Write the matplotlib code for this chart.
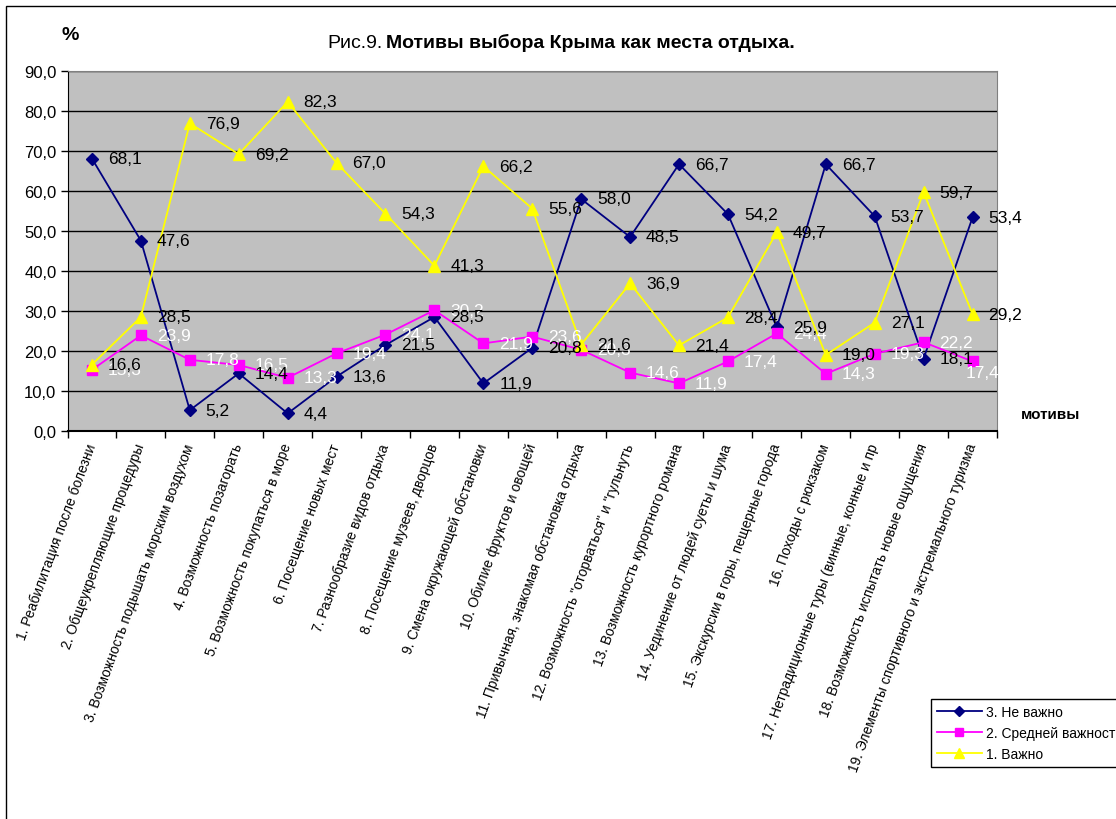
import numpy as np
import matplotlib
matplotlib.use('Agg')
import matplotlib.pyplot as plt
from matplotlib.patches import Rectangle

plt.rcParams['font.family'] = ['Liberation Sans', 'DejaVu Sans']

motives = [
    '1. Реабилитация после болезни',
    '2. Общеукрепляющие процедуры',
    '3. Возможность подышать морским воздухом',
    '4. Возможность позагорать',
    '5. Возможность покупаться в море',
    '6. Посещение новых мест',
    '7. Разнообразие видов отдыха',
    '8. Посещение музеев, дворцов',
    '9. Смена окружающей обстановки',
    '10. Обилие фруктов и овощей',
    '11. Привычная, знакомая обстановка отдыха',
    '12. Возможность "оторваться" и "гульнуть',
    '13. Возможность курортного романа',
    '14. Уединение от людей суеты и шума',
    '15. Экскурсии в горы, пещерные города',
    '16. Походы с рюкзаком',
    '17. Нетрадиционные туры (винные, конные и пр',
    '18. Возможность испытать новые ощущения',
    '19. Элементы спортивного и экстремального туризма',
]
not_important = [68.1, 47.6, 5.2, 14.4, 4.4, 13.6, 21.5, 28.5, 11.9, 20.8,
                 58.0, 48.5, 66.7, 54.2, 25.9, 66.7, 53.7, 18.1, 53.4]
medium = [15.3, 23.9, 17.8, 16.5, 13.3, 19.4, 24.1, 30.2, 21.9, 23.6,
          20.3, 14.6, 11.9, 17.4, 24.4, 14.3, 19.3, 22.2, 17.4]
important = [16.6, 28.5, 76.9, 69.2, 82.3, 67.0, 54.3, 41.3, 66.2, 55.6,
             21.6, 36.9, 21.4, 28.4, 49.7, 19.0, 27.1, 59.7, 29.2]
y_ticks = [0, 10, 20, 30, 40, 50, 60, 70, 80, 90]

W, H = 1116, 820
fig = plt.figure(figsize=(W / 100, H / 100), dpi=100)
ax = fig.add_axes([67.5 / W, 1 - 432 / H, (997 - 67.5) / W, 360 / H])
ax.set_facecolor('#C0C0C0')

x = np.arange(len(motives))

# (values, name, line colour, marker, marker size, label colour, label zorder)
series = [
    (not_important, '3. Не важно', '#000080', 'D', 6, 'black', 12),
    (medium, '2. Средней важности', '#FF00FF', 's', 6.5, 'white', 10),
    (important, '1. Важно', '#FFFF00', '^', 8.5, 'black', 13),
]
for i, (vals, name, color, marker, ms, lab_color, lz) in enumerate(series):
    ax.plot(x, vals, color=color, marker=marker, markersize=ms, lw=1.3,
            label=name, zorder=3 + i, clip_on=False)
    for xi, v in zip(x, vals):
        offset = (11.5, 0)
        # white label at the right edge is pulled back inside the grey area
        if lab_color == 'white' and xi == x[-1]:
            offset = (-5, -8)
        ax.annotate(f'{v:.1f}'.replace('.', ','), (xi, v), xytext=offset,
                    textcoords='offset points', ha='left', va='center',
                    fontsize=12.5, color=lab_color, zorder=lz,
                    annotation_clip=False)

ax.set_ylim(0, 90)
ax.set_yticks(y_ticks)
ax.set_yticklabels([f'{v:.1f}'.replace('.', ',') for v in y_ticks], fontsize=12)
ax.yaxis.grid(True, color='black', lw=1)
ax.set_axisbelow(True)
ax.tick_params(axis='y', length=5, width=1, pad=3)

ax.set_xlim(-0.5, len(motives) - 0.5)
ax.set_xticks(x)
ax.set_xticklabels(motives, fontsize=10)
plt.setp(ax.get_xticklabels(), rotation=70, ha='right', va='center',
         rotation_mode='anchor')
ax.tick_params(axis='x', which='major', length=0, pad=9)
ax.set_xticks(np.arange(-0.5, len(motives), 1), minor=True)
ax.tick_params(axis='x', which='minor', length=5, width=1)

for side in ['top', 'right']:
    ax.spines[side].set_color('#808080')
for side in ['left', 'bottom']:
    ax.spines[side].set_color('black')
ax.spines['bottom'].set_linewidth(1.5)

# title: plain prefix followed by bold text
t1 = fig.text(327 / W, 1 - 43 / H, 'Рис.9.', fontsize=14, ha='left', va='center')
ax.annotate('Мотивы выбора Крыма как места отдыха.', xy=(1, 0), xycoords=t1,
            xytext=(3, 0), textcoords='offset points', ha='left', va='bottom',
            fontsize=14, fontweight='bold', annotation_clip=False)

fig.text(70 / W, 1 - 35 / H, '%', fontsize=14, fontweight='bold',
         ha='center', va='center')
fig.text(1051 / W, 1 - 415 / H, 'мотивы', fontsize=11, fontweight='bold',
         ha='center', va='center')

leg = ax.legend(loc='upper left', bbox_to_anchor=(931 / W, 1 - 700 / H),
                bbox_transform=fig.transFigure, fancybox=False,
                edgecolor='black', framealpha=1, fontsize=10,
                handlelength=3.2, borderaxespad=0, borderpad=0.45,
                labelspacing=0.5, handletextpad=0.3, numpoints=1,
                markerscale=0.8)
leg.get_frame().set_linewidth(1)

# outer chart frame
fig.add_artist(Rectangle((6 / W, -0.1), 1.2, 1.1 - 7 / H, fill=False,
                         ec='black', lw=1, transform=fig.transFigure))

fig.savefig('out.png', dpi=100)
